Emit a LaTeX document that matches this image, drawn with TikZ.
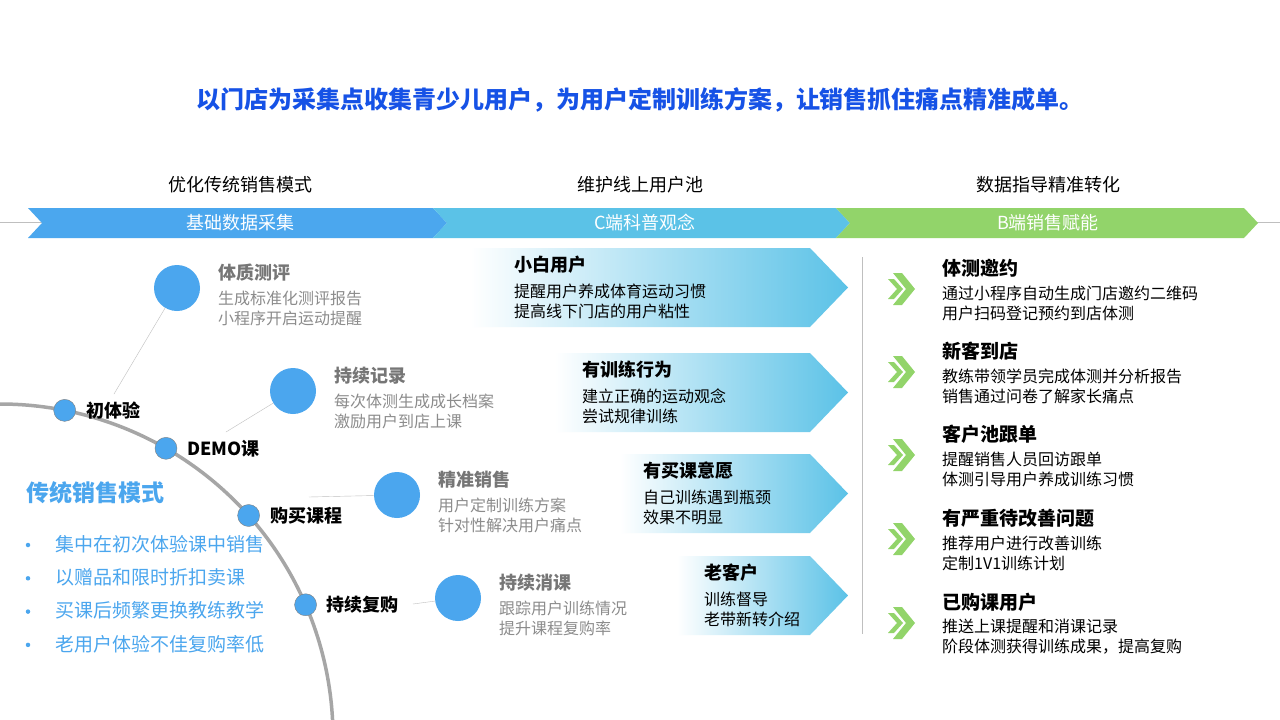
\documentclass[tikz,border=0pt]{standalone}
\usepackage{fontspec}
\setmainfont{Noto Sans CJK SC}
\usetikzlibrary{positioning}

\definecolor{titleblue}{HTML}{1652E6}
\definecolor{bandblue}{HTML}{4BA7EE}
\definecolor{bandcyan}{HTML}{5BC2E7}
\definecolor{bandgreen}{HTML}{92D46A}
\definecolor{dotblue}{HTML}{4BA6EE}
\definecolor{arcgray}{HTML}{A6A6A6}
\definecolor{linegray}{HTML}{BFBFBF}
\definecolor{headgray}{HTML}{767676}
\definecolor{bodygray}{HTML}{8C8C8C}

\begin{document}
\begin{tikzpicture}[x=1pt,y=-1pt,
  fs/.style={font=\fontsize{#1}{20}\selectfont},
  fsb/.style={font=\fontsize{#1}{20}\selectfont\bfseries},
  headtxt/.style={fs=18, text=black, inner sep=0},
  bandtxt/.style={fs=18, text=white, inner sep=0},
  stepdot/.style={circle, fill=dotblue, draw=gray, minimum size=22, inner sep=0},
  bigdot/.style={circle, fill=dotblue, minimum size=46, inner sep=0},
  steplbl/.style={fsb=18, anchor=west, inner sep=0},
  graytitle/.style={fsb=18, text=headgray, anchor=west, inner sep=0},
  graybody/.style={fs=16, text=bodygray, anchor=west, align=left, inner sep=0},
  blktitle/.style={fsb=18, anchor=west, inner sep=0},
  blkbody/.style={fs=16, anchor=west, align=left, inner sep=0}]

  \useasboundingbox (0,0) rectangle (1280,720);
  \clip (0,0) rectangle (1280,720);
  \fill[white] (0,0) rectangle (1280,720);

  % Title
  \node[fsb=24, text=titleblue] (title) at (640,100)
    {以门店为采集点收集青少儿用户，为用户定制训练方案，让销售抓住痛点精准成单。};

  % Phase headings
  \foreach \x/\t [count=\i] in {240/优化传统销售模式, 640/维护线上用户池, 1048/数据指导精准转化} {
    \node[headtxt] (head\i) at (\x,185) {\t};
  }

  % Chevron band
  \draw[linegray] (0,222) -- (1280,222);
  \foreach \a/\b/\c/\x/\t [count=\i] in {28/433/bandblue/240/基础数据采集,
      433/836/bandcyan/645/C端科普观念, 836/1244/bandgreen/1048/B端销售赋能} {
    \fill[\c] (\a,208) -- (\b,208) -- (\b+14,223) -- (\b,238) -- (\a,238) -- (\a+14,223) -- cycle;
    \node[bandtxt] (band\i) at (\x,223) {\t};
  }

  % Sales arc
  \draw[arcgray, line width=3.5] (0,404) arc[start angle=-90, end angle=3, radius=333];
  \foreach \ang/\t [count=\i] in {-78.8/初体验, -60.1/DEMO课, -41.7/购买课程, -23.4/持续复购} {
    \node[stepdot] (dot\i) at ([shift={(0,737)}]\ang:333) {};
    \node[steplbl, right=10 of dot\i] (step\i) {\t};
  }

  % Detail circles
  \foreach \x/\y/\t/\p/\q [count=\i] in {177/288/体质测评/生成标准化测评报告/小程序开启运动提醒,
      293/391/持续记录/每次体测生成成长档案/激励用户到店上课,
      397/495/精准销售/用户定制训练方案/针对性解决用户痛点,
      458/598/持续消课/跟踪用户训练情况/提升课程复购率} {
    \node[bigdot] (big\i) at (\x,\y) {};
    \node[graytitle] (bigt\i) at (\x+41,\y-15) {\t};
    \node[graybody] (bigb\i) at (\x+41,\y+20) {\p\\\q};
  }
  \foreach \x/\y [count=\i] in {114/394, 226/432, 309/497, 413/604} {
    \coordinate (foot\i) at (\x,\y);
    \draw[linegray] (foot\i) -- (big\i);
  }

  % Traditional mode
  \node[fsb=23, text=dotblue, anchor=west, inner sep=0] (trad) at (26,493) {传统销售模式};
  \foreach \t [count=\i] in {集中在初次体验课中销售, 以赠品和限时折扣卖课, 买课后频繁更换教练教学, 老用户体验不佳复购率低} {
    \node[circle, fill=dotblue, minimum size=4.5, inner sep=0] (bul\i) at (28,545+33.3*\i-33.3) {};
    \node[fs=19, text=dotblue, anchor=west, inner sep=0] (trd\i) at (55,544+33.3*\i-33.3) {\t};
  }

  % User stage arrows
  \foreach \l/\y/\x/\t/\p/\q [count=\i] in {470/248/514/小白用户/提醒用户养成体育运动习惯/提高线下门店的用户粘性,
      555/353/582/有训练行为/建立正确的运动观念/尝试规律训练,
      620/454/643/有买课意愿/自己训练遇到瓶颈/效果不明显,
      677/556/704/老客户/训练督导/老带新转介绍} {
    \shade[left color=white, right color=bandcyan] (\l,\y) -- (810,\y) -- (848,\y+39.5) -- (810,\y+79) -- (\l,\y+79) -- cycle;
    \node[blktitle] (stg\i) at (\x,\y+17) {\t};
    \node[blkbody] (stgb\i) at (\x,\y+53.5) {\p\\\q};
  }

  % Divider
  \draw[linegray] (862,257) -- (862,634);

  % B-side actions
  \foreach \y/\t/\p/\q [count=\i] in {290/体测邀约/通过小程序自动生成门店邀约二维码/用户扫码登记预约到店体测,
      373/新客到店/教练带领学员完成体测并分析报告/销售通过问卷了解家长痛点,
      456/客户池跟单/提醒销售人员回访跟单/体测引导用户养成训练习惯,
      540/有严重待改善问题/推荐用户进行改善训练/定制1V1训练计划,
      624/已购课用户/推送上课提醒和消课记录/阶段体测获得训练成果，提高复购} {
    \fill[bandgreen] (893,\y-17) -- ++(9,0) -- ++(13,16) -- ++(-13,16) -- ++(-9,0) -- ++(13,-16) -- cycle;
    \fill[bandgreen] (888,\y-11) -- ++(6,0) -- ++(9,10) -- ++(-9,10) -- ++(-6,0) -- ++(9,-10) -- cycle;
    \node[fsb=19, anchor=west, inner sep=0] (act\i) at (942,\y-22) {\t};
    \node[blkbody] (actb\i) at (942,\y+13) {\p\\\q};
  }
\end{tikzpicture}
\end{document}
